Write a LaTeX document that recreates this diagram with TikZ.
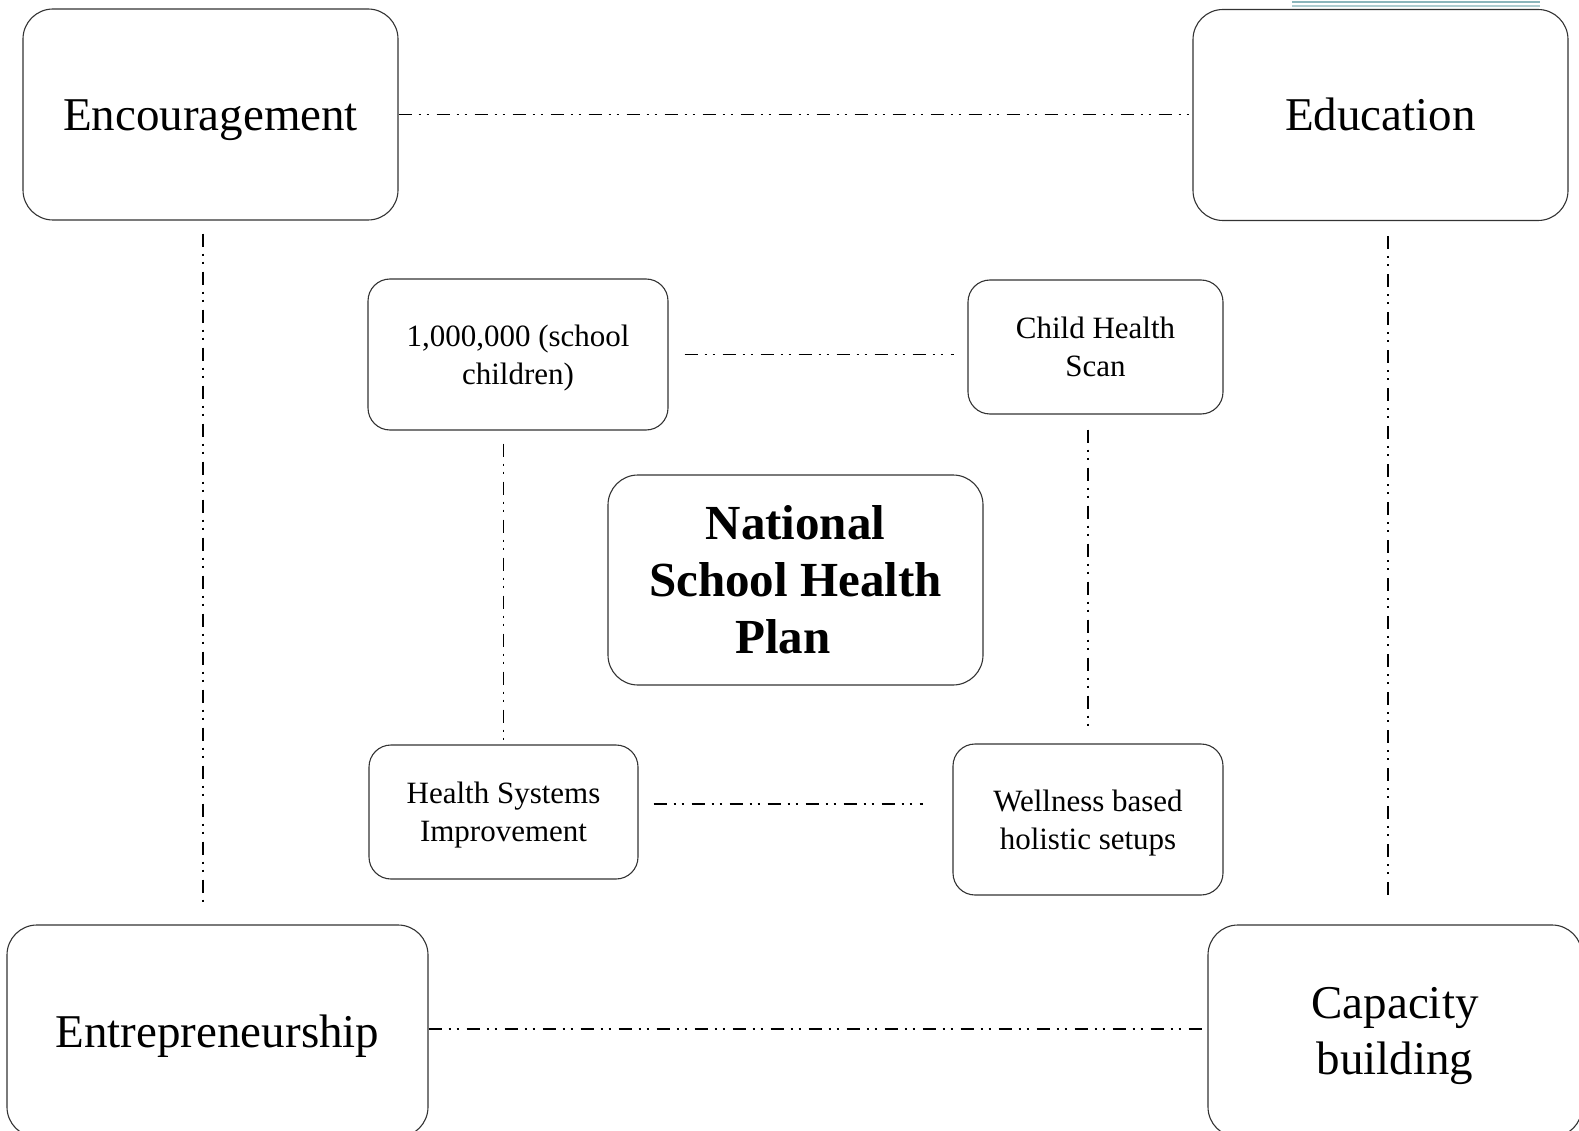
\documentclass[tikz,border=0pt]{standalone}
\usepackage{fontspec}
\setmainfont{Liberation Serif}
\usetikzlibrary{calc}
\definecolor{rulecol}{RGB}{140,182,188}

\begin{document}
\begin{tikzpicture}[x=1pt, y=-1pt,
    box/.style={draw=black!80, line width=1.1pt, inner sep=0pt, align=center, text=black},
    outer/.style={box, rounded corners=30pt, minimum width=375pt, minimum height=211pt, font=\fontsize{47}{56}\selectfont},
    core/.style={box, rounded corners=30pt, minimum width=375pt, minimum height=210pt, font=\fontsize{49}{57}\selectfont\bfseries},
    inner/.style={box, rounded corners=22pt, text depth=0pt, font=\fontsize{31}{38}\selectfont},
    link/.style={draw=black, line width=1.2pt, dash pattern=on 13pt off 7pt on 2pt off 6pt on 2pt off 8pt}]

\useasboundingbox (0,0) rectangle (1579,1131);
\clip (0,0) rectangle (1579,1131);

% thin rules at the top right
\draw[rulecol, line width=1.5pt] (1292,1.8) -- (1540,1.8);
\draw[rulecol!70, line width=1.5pt] (1292,5.8) -- (1540,5.8);

% four corner boxes
\node[outer, text height=32pt, text depth=0pt] (enc) at (210.5,114.5) {Encouragement};
\node[outer, text height=32pt, text depth=0pt] (edu) at (1380.5,115) {Education};
\node[outer, text height=32pt, text depth=0pt, minimum width=421pt, minimum height=212pt] (ent) at (217.5,1031) {Entrepreneurship};
\node[outer, text depth=0pt, minimum width=374pt, minimum height=212pt] (cap) at (1395,1031) {Capacity\\building};

% plan in the middle
\node[core] (plan) at (795.5,580) {National\\School Health\\Plan\hspace*{25pt}};

% four inner boxes
\node[inner, minimum width=300pt, minimum height=151pt] (kids) at (518,354.5) {1,000,000 (school\\children)};
\node[inner, minimum width=255pt, minimum height=134pt] (scan) at (1095.5,347) {Child Health\\Scan};
\node[inner, minimum width=269pt, minimum height=134pt] (hsi) at (503.5,812) {Health Systems\\Improvement};
\node[inner, minimum width=270pt, minimum height=151pt] (well) at (1088,819.5) {Wellness based\\holistic setups};

% outer ring
\draw[link] (enc.east) -- (enc.east -| edu.west);
\draw[link] ([yshift=2pt]ent.east) -- ([yshift=2pt]ent.east -| cap.west);
\draw[link, shorten <=13pt, shorten >=22pt] ([xshift=-7.5pt]enc.south) -- ([xshift=-7.5pt]enc.south |- ent.north);
\draw[link, shorten <=15pt, shorten >=25pt] ([xshift=7.5pt]edu.south) -- ([xshift=7.5pt]edu.south |- cap.north);

% inner ring
\draw[link, shorten <=16pt, shorten >=13pt] (kids.east) -- (kids.east -| scan.west);
\draw[link, shorten <=13pt, shorten >=3pt] (hsi.north |- kids.south) -- (hsi.north);
\draw[link, shorten <=15pt, shorten >=17pt] (well.north |- scan.south) -- (well.north);
\draw[link, shorten <=15pt, shorten >=29pt] ([yshift=8pt]hsi.east) -- ([yshift=8pt]hsi.east -| well.west);

\end{tikzpicture}
\end{document}
